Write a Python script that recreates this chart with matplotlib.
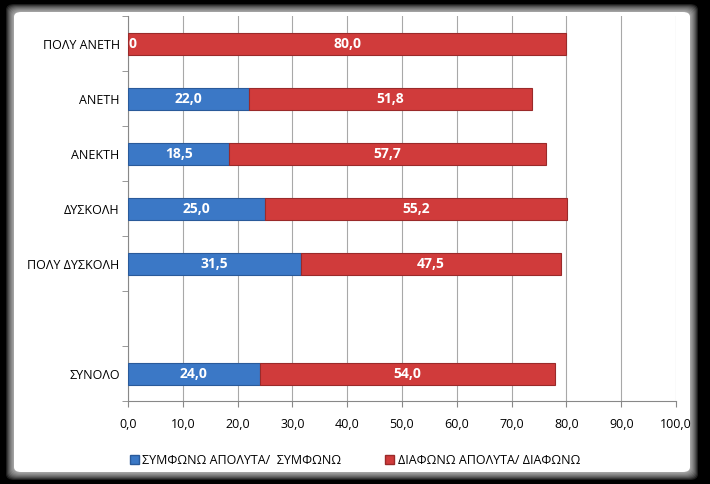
import matplotlib
matplotlib.use("Agg")
import matplotlib.pyplot as plt
from matplotlib.patches import FancyBboxPatch, Patch
import numpy as np

categories = ["ΠΟΛΥ ΑΝΕΤΗ", "ΑΝΕΤΗ", "ΑΝΕΚΤΗ", "ΔΥΣΚΟΛΗ", "ΠΟΛΥ ΔΥΣΚΟΛΗ", "", "ΣΥΝΟΛΟ"]
agree = [0.0, 22.0, 18.5, 25.0, 31.5, np.nan, 24.0]
disagree = [80.0, 51.8, 57.7, 55.2, 47.5, np.nan, 54.0]
series_names = ["ΣΥΜΦΩΝΩ ΑΠΟΛΥΤΑ/  ΣΥΜΦΩΝΩ", "ΔΙΑΦΩΝΩ ΑΠΟΛΥΤΑ/ ΔΙΑΦΩΝΩ"]
xticks = np.arange(0, 101, 10)

plt.rcParams['font.family'] = ['Open Sans', 'DejaVu Sans']

W, H = 710, 484
fig = plt.figure(figsize=(W / 100, H / 100), dpi=100)
fig.patch.set_facecolor('black')

# white panel with soft blurred edge (pixel geometry)
x0, x1, y0, y1 = 14, 690, 12, 472   # y measured from top
n = 8
for i in range(n, 0, -1):
    p = i * 1.0
    a = 0.12
    fig.patches.append(FancyBboxPatch(((x0 - p) / W, (H - y1 - p) / H), (x1 - x0 + 2 * p) / W,
                                      (y1 - y0 + 2 * p) / H,
                                      boxstyle="round,pad=0,rounding_size=0.012",
                                      transform=fig.transFigure, facecolor='white',
                                      edgecolor='none', alpha=a, zorder=-3))
fig.patches.append(FancyBboxPatch((x0 / W, (H - y1) / H), (x1 - x0) / W, (y1 - y0) / H,
                                  boxstyle="round,pad=0,rounding_size=0.01",
                                  transform=fig.transFigure, facecolor='white',
                                  edgecolor='none', zorder=-2))

ax = fig.add_axes([128 / W, (H - 401) / H, (676 - 128) / W, (401 - 16) / H])
ax.set_zorder(2)
ax.set_facecolor('none')

y = np.arange(len(categories))
blue = '#3B78C6'
red = '#D03B3B'
h = 0.4
ag = np.nan_to_num(np.array(agree))
dg = np.nan_to_num(np.array(disagree))
mask = ~np.isnan(np.array(agree))
ax.barh(y[mask], ag[mask], height=h, color=blue, edgecolor='#2A5A9A', linewidth=0.8, zorder=3)
ax.barh(y[mask], dg[mask], left=ag[mask], height=h, color=red, edgecolor='#9A2A2A', linewidth=0.8, zorder=3)

for yi, a, d, m in zip(y, ag, dg, mask):
    if not m:
        continue
    ax.text(a / 2, yi, f"{a:.1f}".replace('.', ','), ha='center', va='center', color='white',
            fontsize=10, fontweight='bold', zorder=5, clip_on=True)
    ax.text(a + d / 2, yi, f"{d:.1f}".replace('.', ','), ha='center', va='center', color='white',
            fontsize=10, fontweight='bold', zorder=5, clip_on=True)

ax.set_xlim(0, 100)
ax.set_ylim(len(categories) - 0.5, -0.5)
ax.set_xticks(xticks)
ax.set_xticklabels([f"{v:.1f}".replace('.', ',') for v in xticks], fontsize=9)
ax.set_yticks(y)
ax.set_yticklabels(categories, fontsize=9)
ax.tick_params(axis='y', length=0, pad=6)
ax.set_yticks(np.arange(-0.5, len(categories), 1), minor=True)
ax.tick_params(axis='y', which='minor', length=4, color='#888888')
ax.tick_params(axis='x', length=4, color='#888888', pad=8)
ax.xaxis.grid(True, color='#A8A8A8', linewidth=0.8, zorder=0)
ax.set_axisbelow(True)
for s in ['top', 'right']:
    ax.spines[s].set_visible(False)
ax.spines['left'].set_color('#888888')
ax.spines['bottom'].set_color('#888888')

handles = [Patch(facecolor=blue, edgecolor='#2A5A9A'), Patch(facecolor=red, edgecolor='#9A2A2A')]
fig.legend(handles, series_names, loc='center', bbox_to_anchor=(0.5, (H - 460) / H), ncol=2, frameon=False,
           fontsize=9, handlelength=0.7, handleheight=0.7, handletextpad=0.3, columnspacing=3.5)

fig.savefig('out.png', dpi=100, facecolor=fig.get_facecolor())
